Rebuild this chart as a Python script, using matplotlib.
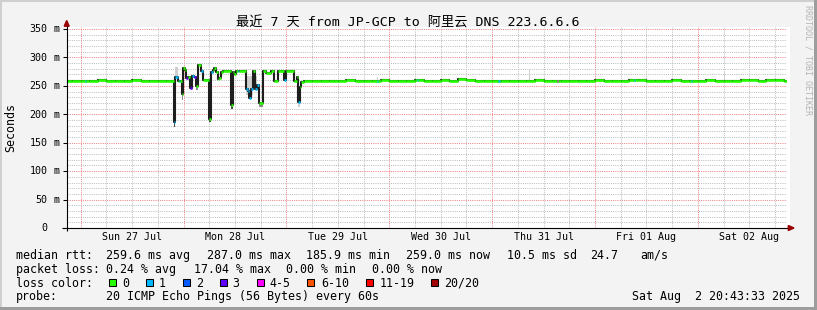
import numpy as np
import pandas as pd
import matplotlib
matplotlib.use('Agg')
import matplotlib.pyplot as plt
import matplotlib.dates as mdates
import matplotlib.transforms as mtransforms
from matplotlib.patches import Rectangle, Polygon

plt.rcParams['font.family'] = ['DejaVu Sans Mono', 'Noto Sans CJK SC']

# ---------------- data ----------------
title = '最近 7 天 from JP-GCP to 阿里云 DNS 223.6.6.6'
start_time = '2025-07-26 20:43:33'
end_time = '2025-08-02 20:43:33'

day_dates = ['2025-07-27', '2025-07-28', '2025-07-29', '2025-07-30',
             '2025-07-31', '2025-08-01', '2025-08-02']
day_labels = ['Sun 27 Jul', 'Mon 28 Jul', 'Tue 29 Jul', 'Wed 30 Jul',
              'Thu 31 Jul', 'Fri 01 Aug', 'Sat 02 Aug']

y_tick_values = [0, 50, 100, 150, 200, 250, 300, 350]
y_tick_numbers = ['0', '50', '100', '150', '200', '250', '300', '350']
y_tick_units = ['', 'm', 'm', 'm', 'm', 'm', 'm', 'm']

# median rtt (ms), quiet period before the disturbance, 2-hour steps
base_a_start = '2025-07-26 20:00'
base_a_vals = [259, 259, 258, 259, 260, 259, 258, 259, 260, 259, 259, 258, 259]

# disturbed period: step start, median (ms), loss level index
dist_times = ['2025-07-27 21:40', '2025-07-27 22:02', '2025-07-27 22:36', '2025-07-27 22:50',
              '2025-07-27 23:12', '2025-07-27 23:32', '2025-07-27 23:54', '2025-07-28 00:18',
              '2025-07-28 00:36', '2025-07-28 01:00', '2025-07-28 01:32', '2025-07-28 01:56',
              '2025-07-28 02:28', '2025-07-28 02:56', '2025-07-28 03:24', '2025-07-28 04:02',
              '2025-07-28 04:26', '2025-07-28 05:50', '2025-07-28 06:18', '2025-07-28 06:46',
              '2025-07-28 07:08', '2025-07-28 07:32', '2025-07-28 08:00', '2025-07-28 08:18',
              '2025-07-28 08:42', '2025-07-28 09:06', '2025-07-28 10:58', '2025-07-28 11:26',
              '2025-07-28 11:48', '2025-07-28 12:12', '2025-07-28 12:36', '2025-07-28 13:00',
              '2025-07-28 14:32', '2025-07-28 14:56', '2025-07-28 15:18', '2025-07-28 15:38',
              '2025-07-28 16:06', '2025-07-28 16:38', '2025-07-28 17:06', '2025-07-28 17:38',
              '2025-07-28 18:26', '2025-07-28 19:12', '2025-07-28 20:22', '2025-07-28 21:00',
              '2025-07-28 21:56', '2025-07-28 23:28', '2025-07-29 00:00', '2025-07-29 01:46',
              '2025-07-29 02:24', '2025-07-29 02:42', '2025-07-29 03:06', '2025-07-29 03:24']
dist_vals = [185.9, 266, 259, 259,
             259, 236, 281, 278,
             263, 266, 247, 268,
             265, 250, 287.0, 276,
             260, 192, 274, 278,
             282, 274, 262, 263,
             274, 276, 217, 274,
             270, 276, 276, 276,
             244, 241, 229, 245,
             276, 244, 251, 220,
             276, 272, 276, 259,
             276, 260, 276, 259,
             265, 222, 248, 257]
dist_loss = [1, 1, 0, 1,
             0, 0, 0, 0,
             3, 0, 3, 1,
             3, 0, 0, 1,
             0, 0, 1, 0,
             0, 0, 0, 0,
             0, 0, 0, 0,
             0, 0, 1, 0,
             1, 1, 1, 1,
             0, 1, 1, 0,
             0, 0, 0, 0,
             0, 1, 0, 0,
             0, 1, 0, 0]

# quiet period after the disturbance, 2-hour steps
base_b_start = '2025-07-29 04:00'
base_b_vals = [259, 259, 258, 259, 259, 260, 259, 258, 259, 260,
               259, 258, 259, 260, 259, 259, 260, 259, 262, 260, 259, 258,
               259, 259, 258, 259, 259, 260, 259, 258, 259, 259, 258, 259,
               260, 259, 258, 259, 260, 261, 259, 258, 259, 260, 259, 258,
               259, 260, 259, 258, 259, 260, 261, 259, 260, 261, 259, 258]

# isolated lossy samples in the quiet periods
loss_mark_times = ['2025-07-27 01:00', '2025-07-29 21:04', '2025-07-30 06:28',
                   '2025-07-31 01:28', '2025-07-31 15:07', '2025-08-01 09:06',
                   '2025-08-01 22:24']
loss_mark_levels = [1, 1, 1, 1, 4, 1, 1]

# smoke (ping spread) patches
smoke_start = ['2025-07-27 21:40', '2025-07-27 22:02', '2025-07-27 23:32', '2025-07-28 02:56',
               '2025-07-28 05:50', '2025-07-28 10:58', '2025-07-28 14:32', '2025-07-28 16:38',
               '2025-07-28 17:38', '2025-07-29 02:42', '2025-07-29 21:04', '2025-07-31 08:42',
               '2025-08-02 06:04']
smoke_end = ['2025-07-27 22:02', '2025-07-27 22:36', '2025-07-27 23:54', '2025-07-28 03:24',
             '2025-07-28 06:18', '2025-07-28 11:26', '2025-07-28 16:06', '2025-07-28 17:06',
             '2025-07-28 18:26', '2025-07-29 03:06', '2025-07-29 21:18', '2025-07-31 08:56',
             '2025-08-02 06:18']
smoke_lo = [178, 266, 225, 243, 186, 210, 234, 244, 212, 213, 259, 260, 260]
smoke_hi = [186, 283, 236, 252, 198, 217, 268, 268, 220, 222, 265, 280, 276]
smoke_shade = ['dark', 'light', 'mid', 'mid', 'dark', 'dark', 'light', 'light',
               'mid', 'light', 'light', 'light', 'light']

loss_labels = ['0', '1', '2', '3', '4-5', '6-10', '11-19', '20/20']
loss_colors = ['#26ff00', '#00b8ff', '#0059ff', '#5e00ff',
               '#ff00ff', '#ff5500', '#ff0000', '#a10000']

row1_label = 'median rtt:'
row1_items = ['259.6 ms avg', '287.0 ms max', '185.9 ms min', '259.0 ms now',
              '10.5 ms sd', '24.7', 'am/s']
row2_label = 'packet loss:'
row2_items = ['0.24 % avg', '17.04 % max', '0.00 % min', '0.00 % now']
row3_label = 'loss color:'
row4_label = 'probe:'
row4_text = '20 ICMP Echo Pings (56 Bytes) every 60s'
stamp_text = 'Sat Aug  2 20:43:33 2025'
watermark = 'RRDTOOL / TOBI OETIKER'
ylabel = 'Seconds'

# ---------------- layout / style ----------------
W, H = 817, 310
BG = '#f3f3f3'
GRID = '#bdbdbd'
MGRID = '#f08080'
ARROW = '#990000'
SHADES = {'light': '#cfcfcf', 'mid': '#8c8c8c', 'dark': '#4a4a4a'}

AX_L, AX_R, AX_T, AX_B = 66.7, 786.7, 26.5, 228.0
AXW, AXH = AX_R - AX_L, AX_B - AX_T
Y_TOP = (AX_B - AX_T) * 350.0 / 199.0

def fx(x):
    return x / W

def fy(y):
    return 1 - y / H

fig = plt.figure(figsize=(W / 100, H / 100), dpi=100, facecolor=BG)
ax = fig.add_axes([fx(AX_L), fy(AX_B), AXW / W, AXH / H])
ax.set_facecolor('white')

# thin white strip right of plot area (canvas)
fig.add_artist(Rectangle((fx(AX_R), fy(AX_B)), fx(790) - fx(AX_R), AXH / H,
                         transform=fig.transFigure, facecolor='white',
                         edgecolor='none', zorder=0))

t0 = mdates.date2num(pd.Timestamp(start_time))
t1 = mdates.date2num(pd.Timestamp(end_time))

# grid (dotted)
for t in pd.date_range('2025-07-27 00:00', '2025-08-02 18:00', freq='6h'):
    major = t.hour == 0
    ax.axvline(mdates.date2num(t), color=MGRID if major else GRID, lw=0.72,
               ls=(0, (1, 1.2)), zorder=1, antialiased=True)
for v in range(10, 351, 10):
    major = v % 50 == 0
    ax.axhline(v, color=MGRID if major else GRID, lw=0.72,
               ls=(0, (1, 1.2)), zorder=1, antialiased=True)

# assemble median series
ta = pd.date_range(base_a_start, periods=len(base_a_vals), freq='2h')
tb = pd.date_range(base_b_start, periods=len(base_b_vals), freq='2h')
times = np.concatenate([mdates.date2num(ta),
                        mdates.date2num(pd.to_datetime(dist_times)),
                        mdates.date2num(tb)])
vals = np.array(list(base_a_vals) + list(dist_vals) + list(base_b_vals), dtype=float)
loss = np.array([0] * len(base_a_vals) + list(dist_loss) + [0] * len(base_b_vals))
ends = np.append(times[1:], times[-1] + 2 / 24)

# smoke
s0 = mdates.date2num(pd.to_datetime(smoke_start))
s1 = mdates.date2num(pd.to_datetime(smoke_end))
ax.bar(s0, np.array(smoke_hi) - np.array(smoke_lo), width=s1 - s0,
       bottom=smoke_lo, align='edge', color=[SHADES[s] for s in smoke_shade],
       linewidth=0, zorder=3)

# median: dark step + coloured level segments
ax.step(np.append(times, ends[-1]), np.append(vals, vals[-1]), where='post',
        color='#1e1e1e', lw=1.5, zorder=4)
ax.hlines(vals, times, ends, colors=[loss_colors[l] for l in loss], lw=1.9, zorder=5)

# isolated loss marks on the quiet periods
mt = mdates.date2num(pd.to_datetime(loss_mark_times))
idx = np.searchsorted(times, mt, side='right') - 1
ax.hlines(vals[idx], mt, mt + 20 / 1440, colors=[loss_colors[l] for l in loss_mark_levels],
          lw=1.9, zorder=6)

ax.set_xlim(t0, t1)
ax.set_ylim(0, Y_TOP)
for s in ax.spines.values():
    s.set_visible(False)
ax.set_xticks([])
ax.set_yticks(y_tick_values)
ax.tick_params(axis='y', length=3, width=0.75, direction='out', labelleft=False,
               color='black')

# axis lines + arrows
ax.plot([(62 - AX_L) / AXW, (789 - AX_L) / AXW], [0, 0], transform=ax.transAxes,
        color='black', lw=0.8, clip_on=False, zorder=7, solid_capstyle='butt')
ax.plot([0, 0], [-3 / AXH, (AX_B - 24) / AXH], transform=ax.transAxes,
        color='black', lw=0.8, clip_on=False, zorder=7, solid_capstyle='butt')
fig.add_artist(Polygon([(fx(794), fy(228)), (fx(788.3), fy(225.5)), (fx(788.3), fy(230.5))],
                       closed=True, transform=fig.transFigure, color=ARROW, zorder=8))
fig.add_artist(Polygon([(fx(66.7), fy(20.5)), (fx(64.2), fy(26.2)), (fx(69.2), fy(26.2))],
                       closed=True, transform=fig.transFigure, color=ARROW, zorder=8))

# x labels
tx = mtransforms.blended_transform_factory(ax.transData, ax.transAxes)
for d, lab in zip(day_dates, day_labels):
    xn = mdates.date2num(pd.Timestamp(d) + pd.Timedelta(hours=12))
    ax.text(xn, (AX_B - 240.5) / AXH, lab, transform=tx, ha='center', va='baseline',
            fontsize=7.2, color='black', clip_on=False)

# y labels
ty = mtransforms.blended_transform_factory(ax.transAxes, ax.transData) + \
    mtransforms.ScaledTranslation(0, -3.3 / 100, fig.dpi_scale_trans)
for v, num, unit in zip(y_tick_values, y_tick_numbers, y_tick_units):
    ax.text((47.6 - AX_L) / AXW, v, num, transform=ty, ha='right', va='baseline',
            fontsize=7.2, color='black', clip_on=False)
    if unit:
        ax.text((53.0 - AX_L) / AXW, v, unit, transform=ty, ha='left', va='baseline',
                fontsize=7.2, color='black', clip_on=False)

# title, y label, watermark
fig.text(fx(408), fy(26.5), title, ha='center', va='baseline', fontsize=9.5, color='black')
fig.text(fx(10.3), fy(127.5), ylabel, rotation=90, ha='center', va='center',
         fontsize=8.4, color='black')
fig.text(fx(808), fy(60), watermark, rotation=270, ha='center', va='center',
         fontsize=6.0, color='#b4b4b4')

# legend
FS = 8.4
rows_y = [258.6, 272.6, 286.6, 300.4]
fig.text(fx(15.5), fy(rows_y[0]), row1_label, fontsize=FS, va='baseline')
for x, s in zip([106.5, 206.5, 306.5, 406.5, 506.8, 590.0, 640.2], row1_items):
    fig.text(fx(x), fy(rows_y[0]), s, fontsize=FS, va='baseline')
fig.text(fx(15.5), fy(rows_y[1]), row2_label, fontsize=FS, va='baseline')
for x, s in zip([106.5, 194.0, 286.2, 372.2], row2_items):
    fig.text(fx(x), fy(rows_y[1]), s, fontsize=FS, va='baseline')
fig.text(fx(15.5), fy(rows_y[2]), row3_label, fontsize=FS, va='baseline')
sq_x = [108.3, 145.7, 182.7, 219.3, 256.0, 306.0, 365.0, 430.7]
lab_x = [122.6, 159.0, 196.0, 232.6, 269.3, 321.0, 379.3, 444.4]
for sx, lx, lab, col in zip(sq_x, lab_x, loss_labels, loss_colors):
    fig.add_artist(Rectangle((fx(sx + 0.5), fy(285.5)), 7 / W, 7 / H,
                             transform=fig.transFigure, facecolor=col,
                             edgecolor='black', lw=0.75))
    fig.text(fx(lx), fy(rows_y[2]), lab, fontsize=FS, va='baseline')
fig.text(fx(15.5), fy(rows_y[3]), row4_label, fontsize=FS, va='baseline')
fig.text(fx(106.5), fy(rows_y[3]), row4_text, fontsize=FS, va='baseline')
fig.text(fx(800.5), fy(rows_y[3]), stamp_text, fontsize=FS, va='baseline', ha='right')

# frame
fig.add_artist(Rectangle((0, fy(2)), 1, 2 / H, transform=fig.transFigure,
                         facecolor='#cfcfcf', edgecolor='none', zorder=9))
fig.add_artist(Rectangle((0, 0), 2 / W, 1, transform=fig.transFigure,
                         facecolor='#cfcfcf', edgecolor='none', zorder=9))
fig.add_artist(Rectangle((0, 0), 1, 3 / H, transform=fig.transFigure,
                         facecolor='#9d9d9d', edgecolor='none', zorder=9))
fig.add_artist(Rectangle((fx(814), 0), 3 / W, 1, transform=fig.transFigure,
                         facecolor='#9d9d9d', edgecolor='none', zorder=9))

fig.savefig('out.png', dpi=100, facecolor=fig.get_facecolor())
